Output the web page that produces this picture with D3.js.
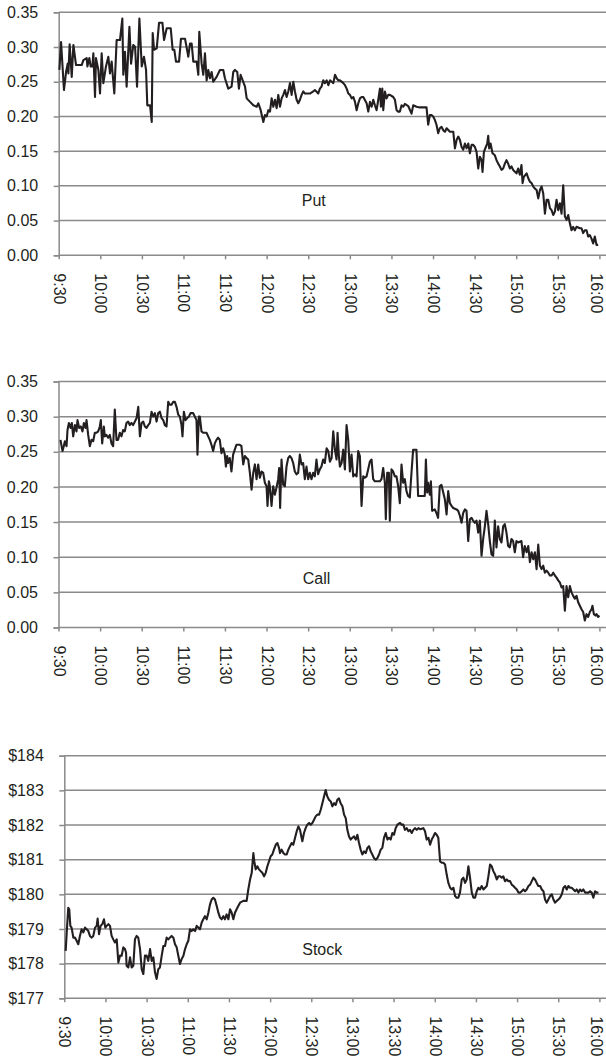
<!DOCTYPE html>
<html>
<head>
<meta charset="utf-8">
<script src="https://cdn.jsdelivr.net/npm/d3@7"></script>
<style>
  html, body { margin: 0; padding: 0; background: #fff; }
  svg { display: block; }
  text { font-family: "Liberation Sans", Arial, Helvetica, sans-serif; fill: #231f20; }
</style>
</head>
<body>
<svg id="chart" width="606" height="1057"></svg>
<script>
// ---------- DATA (minutes after 9:30, value) ----------
const timeTickLabels = ["9:30","10:00","10:30","11:00","11:30","12:00","12:30","13:00","13:30","14:00","14:30","15:00","15:30","16:00"];
const optionTicks = [0, 0.05, 0.10, 0.15, 0.20, 0.25, 0.30, 0.35];
const stockTicks = [177, 178, 179, 180, 181, 182, 183, 184];
const panelTitles = ["Put", "Call", "Stock"];

const putMinutes = [0.5,1.7,3.8,5.3,6.5,7.0,7.9,9.4,10.6,12.5,14.2,16.6,17.8,20.2,20.7,22.1,23.1,24.3,25.0,26.2,26.9,28.6,29.8,31.0,32.2,34.1,35.8,37.0,38.2,40.1,41.8,44.2,45.9,46.6,47.8,49.0,51.0,52.2,53.8,55.1,56.5,58.2,59.9,61.5,63.0,63.9,65.9,67.1,67.8,68.8,70.7,72.4,74.8,76.0,77.9,80.8,82.2,83.4,84.6,86.8,88.2,91.1,93.5,94.7,95.9,97.1,99.5,100.7,101.4,
103.1,104.3,105.5,106.7,107.9,109.1,110.3,111.5,113.9,116.3,118.7,119.9,122.3,124.7,125.9,127.1,128.8,130.0,131.2,132.7,134.4,135.6,138.0,140.4,142.8,144.0,145.7,147.6,148.8,150.0,151.2,152.4,153.6,154.8,156.0,157.2,158.4,159.6,160.8,162.0,163.2,164.4,165.6,166.8,168.0,169.2,170.4,171.6,172.8,174.0,175.2,176.4,177.6,181.2,183.6,184.8,187.2,188.4,189.6,190.8,192.0,193.3,194.5,195.7,196.9,198.1,199.3,200.5,201.7,202.9,205.3,206.5,207.7,208.9,210.1,211.3,212.5,213.7,214.9,216.1,217.3,218.5,219.7,222.1,223.3,224.5,225.7,226.9,228.1,229.3,230.5,231.7,232.4,233.4,234.1,235.3,236.5,237.7,238.9,241.3,242.5,243.7,244.9,246.1,
247.3,248.5,249.7,252.1,254.5,255.7,258.1,260.5,265.3,266.5,267.7,268.9,270.1,271.3,272.5,273.7,274.9,276.1,277.4,278.6,279.8,282.2,284.6,285.8,287.0,288.2,289.4,290.6,291.8,293.0,294.2,295.4,296.6,297.8,299.0,300.2,301.4,302.6,303.8,305.0,305.7,306.7,308.1,309.1,309.8,310.5,311.5,312.9,314.6,315.8,317.0,318.2,319.4,320.6,321.8,323.0,324.2,325.4,326.6,327.8,330.2,331.4,332.6,333.8,334.6,335.5,337.5,338.7,339.9,341.1,342.3,343.5,344.7,345.9,347.1,348.3,349.5,350.7,351.9,353.1,354.3,355.5,356.7,357.9,359.1,360.3,361.5,362.7,363.9,365.1,366.3,367.5,368.7,369.9,371.1,372.3,373.5,375.9,377.1,378.3,379.5,380.7,381.9,383.1,384.3,385.5,386.7,387.9,389.1];
const putPrices = [0.267,0.307,0.238,0.264,0.276,0.262,0.304,0.257,0.303,0.274,0.274,0.274,0.281,0.284,0.272,0.284,0.272,0.272,0.291,0.228,0.284,0.267,0.233,0.291,0.248,0.272,0.286,0.262,0.279,0.233,0.310,0.310,0.341,0.260,0.293,0.243,0.329,0.276,0.303,0.300,0.243,0.341,0.272,0.286,0.267,0.216,0.216,0.192,0.320,0.296,0.298,0.335,0.335,0.310,0.327,0.327,0.296,0.296,0.279,0.279,0.312,0.312,0.286,0.305,0.305,0.279,0.279,0.260,0.322,
0.276,0.260,0.291,0.252,0.267,0.255,0.264,0.250,0.257,0.267,0.267,0.255,0.240,0.243,0.264,0.267,0.264,0.240,0.260,0.252,0.243,0.226,0.221,0.216,0.214,0.219,0.209,0.192,0.202,0.200,0.209,0.207,0.226,0.214,0.224,0.212,0.231,0.214,0.226,0.231,0.238,0.228,0.236,0.248,0.231,0.250,0.236,0.224,0.219,0.224,0.231,0.236,0.233,0.233,0.236,0.238,0.233,0.240,0.243,0.252,0.248,0.252,0.245,0.252,0.250,0.248,0.260,0.255,0.252,0.252,0.248,0.245,0.240,0.233,0.231,0.226,0.228,0.221,0.209,0.219,0.226,0.228,0.228,0.219,0.207,0.221,0.214,0.224,0.216,0.209,0.224,0.240,0.214,0.240,0.209,0.236,0.226,0.231,0.231,0.228,0.224,0.209,0.207,0.207,
0.216,0.214,0.218,0.215,0.204,0.216,0.214,0.213,0.213,0.188,0.202,0.202,0.200,0.195,0.188,0.176,0.183,0.185,0.180,0.178,0.183,0.178,0.178,0.154,0.166,0.171,0.166,0.156,0.152,0.161,0.154,0.161,0.147,0.159,0.159,0.156,0.149,0.125,0.142,0.137,0.120,0.149,0.156,0.161,0.172,0.154,0.161,0.147,0.144,0.137,0.132,0.128,0.123,0.125,0.132,0.137,0.132,0.125,0.128,0.123,0.118,0.125,0.116,0.130,0.104,0.113,0.118,0.111,0.106,0.104,0.099,0.096,0.094,0.082,0.094,0.099,0.089,0.060,0.080,0.080,0.068,0.065,0.058,0.063,0.080,0.065,0.075,0.060,0.101,0.056,0.051,0.058,0.046,0.036,0.041,0.036,0.041,0.039,0.039,0.032,0.036,0.036,0.027,0.029,0.024,0.017,0.027,0.015,0.015];

const callMinutes = [1.4,2.9,3.8,4.6,5.8,6.5,7.5,8.7,9.6,10.6,11.8,13.0,13.7,14.9,16.1,17.3,18.3,19.5,20.2,21.4,22.6,23.8,25.0,26.2,27.4,28.6,29.8,30.5,31.5,32.7,33.4,34.6,35.8,37.0,38.2,39.4,40.6,41.8,43.0,44.2,45.4,46.6,47.8,49.0,50.2,51.4,52.6,53.8,55.1,56.3,57.5,58.7,59.9,61.1,62.3,63.5,64.7,65.9,67.1,68.3,69.5,70.7,71.9,73.1,74.3,75.5,76.7,77.9,79.1,80.3,81.5,82.7,83.9,85.1,86.3,87.5,88.7,89.4,90.4,91.6,92.8,94.0,95.2,97.1,98.3,99.5,100.2,101.2,
101.9,103.1,104.3,106.7,109.1,110.3,111.5,112.7,113.9,115.1,116.3,117.5,118.7,119.9,120.7,121.6,122.3,123.5,124.7,125.9,127.1,128.3,130.7,131.9,133.2,134.4,135.6,136.8,138.0,139.2,140.4,141.6,142.8,144.0,145.2,146.4,147.6,148.8,150.0,150.7,151.7,152.4,153.6,154.8,156.0,157.2,158.4,159.1,159.8,160.8,162.0,163.2,164.4,165.6,166.8,168.0,169.2,170.4,171.6,172.8,174.0,175.2,176.4,177.6,178.8,180.0,181.2,182.4,183.6,184.8,186.0,187.2,188.4,189.6,190.8,192.0,193.3,194.5,195.7,196.9,198.1,199.3,200.5,201.2,202.1,202.9,204.1,205.3,206.5,207.7,208.9,210.1,211.3,212.5,213.7,214.9,216.1,217.3,218.5,219.7,220.9,222.1,223.3,224.5,225.7,226.9,228.1,231.7,232.9,234.1,235.3,236.0,237.0,238.2,238.9,240.1,241.3,242.5,243.7,244.9,246.1,
247.3,248.5,249.7,250.9,252.1,253.3,254.5,255.7,258.1,259.3,261.7,264.1,264.9,265.8,266.5,267.7,268.5,269.4,271.3,272.5,273.7,274.9,276.1,277.4,278.6,279.8,281.0,282.2,283.4,284.6,287.0,288.2,289.4,290.6,291.8,293.0,294.2,295.4,296.6,297.8,299.0,300.2,301.4,302.6,303.8,305.0,306.2,307.4,308.6,309.8,311.0,312.2,313.4,314.6,315.8,317.0,318.2,319.4,320.6,321.8,323.0,324.2,325.4,326.6,327.8,329.0,330.2,331.4,333.8,335.0,336.2,337.5,338.7,339.9,341.1,342.3,343.5,344.7,345.9,347.1,348.3,349.5,350.7,351.9,353.1,354.3,355.5,356.7,357.9,359.1,360.3,361.5,362.7,363.9,365.1,366.3,367.5,368.7,369.9,371.1,372.3,373.5,374.7,375.9,377.1,378.3,379.5,380.7,381.9,383.1,384.3,385.0,386.0,387.2,387.9,389.1,390.0];
const callPrices = [0.267,0.251,0.258,0.265,0.258,0.281,0.291,0.284,0.291,0.272,0.288,0.279,0.295,0.284,0.286,0.279,0.291,0.284,0.295,0.274,0.258,0.267,0.265,0.277,0.277,0.279,0.286,0.295,0.262,0.286,0.272,0.274,0.270,0.274,0.262,0.258,0.310,0.267,0.267,0.277,0.272,0.281,0.279,0.291,0.293,0.288,0.291,0.288,0.293,0.298,0.314,0.272,0.291,0.293,0.286,0.284,0.288,0.291,0.307,0.300,0.305,0.293,0.305,0.307,0.298,0.295,0.288,0.286,0.321,0.317,0.317,0.321,0.321,0.314,0.303,0.300,0.288,0.272,0.307,0.295,0.298,0.300,0.305,0.305,0.300,0.295,0.246,0.300,
0.300,0.279,0.277,0.277,0.267,0.260,0.251,0.262,0.267,0.270,0.267,0.248,0.255,0.246,0.229,0.244,0.234,0.241,0.222,0.246,0.253,0.260,0.260,0.258,0.232,0.244,0.241,0.239,0.220,0.196,0.220,0.232,0.211,0.232,0.213,0.222,0.220,0.206,0.201,0.173,0.208,0.201,0.173,0.201,0.189,0.199,0.211,0.227,0.170,0.239,0.203,0.201,0.229,0.241,0.244,0.241,0.234,0.222,0.218,0.220,0.246,0.232,0.234,0.211,0.229,0.211,0.220,0.211,0.220,0.215,0.239,0.218,0.225,0.229,0.239,0.234,0.255,0.251,0.236,0.241,0.279,0.253,0.239,0.277,0.246,0.229,0.234,0.253,0.225,0.288,0.267,0.222,0.246,0.215,0.218,0.215,0.251,0.244,0.173,0.215,0.213,0.215,0.225,0.236,0.239,0.211,0.208,0.208,0.211,0.227,0.206,0.154,0.220,0.220,0.152,0.225,0.222,0.215,0.215,0.201,0.177,
0.232,0.206,0.211,0.194,0.187,0.185,0.220,0.253,0.253,0.187,0.187,0.187,0.239,0.192,0.206,0.189,0.208,0.166,0.168,0.163,0.156,0.201,0.203,0.192,0.182,0.161,0.194,0.177,0.173,0.170,0.168,0.166,0.159,0.149,0.163,0.168,0.166,0.123,0.154,0.156,0.152,0.149,0.152,0.135,0.152,0.102,0.126,0.144,0.166,0.147,0.123,0.104,0.102,0.152,0.114,0.144,0.126,0.121,0.144,0.147,0.135,0.116,0.114,0.126,0.123,0.107,0.123,0.121,0.123,0.100,0.116,0.107,0.116,0.093,0.107,0.097,0.107,0.083,0.118,0.088,0.083,0.088,0.078,0.081,0.078,0.074,0.074,0.078,0.074,0.071,0.067,0.064,0.057,0.059,0.024,0.059,0.043,0.059,0.050,0.045,0.041,0.045,0.036,0.031,0.026,0.022,0.010,0.019,0.015,0.022,0.026,0.031,0.019,0.017,0.019,0.015,0.017];

const stockMinutes = [1.0,1.9,2.9,3.6,4.4,5.3,6.6,7.8,9.0,10.2,11.4,12.6,13.9,15.1,16.3,17.5,18.7,19.9,21.1,22.4,23.6,24.3,25.3,26.5,27.7,28.9,29.9,30.9,32.1,33.3,34.5,35.7,36.9,38.2,39.4,40.6,41.8,43.0,44.2,45.0,45.4,46.7,47.9,49.1,50.3,51.5,52.7,53.9,55.2,56.4,57.6,58.8,60.0,61.2,62.5,63.7,64.9,66.1,67.3,68.5,69.7,71.0,72.2,73.4,74.6,75.8,77.0,78.2,79.5,80.7,81.9,83.1,84.3,85.5,86.8,88.0,89.2,90.4,91.6,92.8,94.0,95.3,96.5,98.9,
100.1,101.3,102.5,103.8,105.0,106.2,107.4,108.6,109.8,111.1,112.3,113.5,114.7,115.9,117.1,118.3,119.6,120.8,122.0,123.2,124.4,125.6,126.8,128.1,130.5,132.9,134.1,135.4,136.6,137.8,138.5,139.5,140.7,141.9,143.1,144.3,145.6,146.8,148.0,149.2,150.4,151.6,152.8,154.1,155.3,156.5,157.2,158.4,159.7,160.9,162.1,163.3,164.5,165.7,166.9,168.2,169.4,170.6,171.8,172.5,173.5,174.7,175.9,177.1,178.4,179.6,180.8,182.0,183.2,184.4,185.7,186.9,188.1,189.3,190.5,191.7,192.9,194.2,195.4,196.6,197.8,199.0,200.2,201.4,202.7,203.9,205.1,206.3,207.5,208.7,209.9,211.2,212.4,213.6,214.8,216.0,217.2,218.5,219.7,220.9,222.1,223.3,224.5,225.7,227.0,228.2,229.4,230.6,231.8,233.0,234.3,235.5,236.7,237.9,239.1,240.3,241.5,242.8,244.7,
245.9,247.1,248.3,249.6,250.8,252.0,253.2,254.4,255.6,256.9,258.1,259.3,261.7,262.9,264.1,265.4,266.6,267.8,269.0,270.2,271.4,272.6,273.9,275.1,276.3,277.5,278.7,279.9,281.2,282.4,283.6,284.8,286.0,287.2,288.4,289.7,290.9,292.1,293.3,294.5,295.7,297.0,298.2,299.4,300.6,301.8,303.0,304.2,305.5,306.7,307.9,309.1,310.3,311.5,312.7,314.0,315.2,316.4,317.6,318.8,320.0,321.2,322.5,323.7,324.9,326.1,327.3,328.5,329.8,331.0,332.2,333.4,334.6,335.8,337.0,338.3,339.5,340.7,341.9,343.1,344.3,345.5,346.8,348.0,349.2,350.4,351.6,352.8,354.1,355.3,356.5,357.7,358.9,360.1,361.3,362.6,363.8,365.0,366.2,367.4,368.6,369.8,371.1,372.3,373.5,374.7,375.9,377.1,378.3,379.6,380.8,382.0,383.2,384.4,385.6,386.8,388.0,389.3];
const stockPrices = [178.37,178.99,179.61,179.57,179.09,179.04,178.75,178.75,178.66,178.56,178.80,178.99,178.90,179.04,178.99,178.94,178.80,178.75,178.80,179.04,179.09,179.30,178.85,179.09,179.14,179.28,179.04,179.09,179.14,179.09,178.80,178.70,178.61,178.70,178.03,178.23,178.23,178.47,178.42,178.32,177.94,177.89,178.18,177.89,177.94,178.70,178.80,178.75,178.42,177.84,177.70,178.23,178.23,178.08,178.42,178.08,178.18,177.75,177.56,177.84,177.89,178.23,178.51,178.51,178.75,178.70,178.75,178.80,178.75,178.56,178.47,178.23,177.99,178.13,178.23,178.42,178.56,178.66,178.99,178.94,178.99,178.94,179.09,178.99,
179.18,179.28,179.37,179.28,179.47,179.71,179.85,179.90,179.85,179.66,179.47,179.33,179.28,179.37,179.28,179.42,179.28,179.57,179.47,179.28,179.47,179.57,179.66,179.76,179.81,179.81,180.14,180.43,180.62,181.19,180.95,180.72,180.81,180.72,180.67,180.62,180.52,180.62,180.81,180.95,181.10,181.15,181.29,181.43,181.48,181.34,181.19,181.29,181.19,181.15,181.15,181.29,181.39,181.48,181.43,181.63,181.82,181.96,181.86,181.72,181.53,181.77,181.91,182.01,182.06,182.01,182.06,182.15,182.25,182.30,182.30,182.44,182.63,182.82,183.01,182.82,182.73,182.68,182.54,182.63,182.58,182.73,182.77,182.63,182.54,182.30,182.20,181.86,181.67,181.58,181.63,181.67,181.58,181.72,181.48,181.29,181.15,181.24,181.19,181.34,181.39,181.24,181.15,181.05,181.00,181.05,181.15,181.29,181.34,181.63,181.77,181.58,181.63,181.58,181.77,181.72,181.91,182.01,182.06,
182.01,182.01,181.86,181.91,181.82,181.86,181.77,181.86,181.91,181.86,181.91,181.88,181.91,181.82,181.58,181.63,181.43,181.58,181.67,181.77,181.72,181.63,180.95,180.91,180.91,180.86,180.57,180.33,180.19,180.14,180.19,179.95,179.90,179.90,180.05,180.43,180.48,180.33,180.43,180.81,180.48,180.05,179.90,179.90,180.09,180.19,180.14,180.24,180.14,180.19,180.24,180.52,180.86,180.81,180.67,180.57,180.43,180.52,180.52,180.48,180.52,180.38,180.43,180.38,180.38,180.28,180.24,180.19,180.14,180.05,180.05,180.09,180.14,180.09,180.14,180.24,180.28,180.38,180.48,180.43,180.33,180.24,180.24,180.14,180.09,179.85,179.76,179.85,179.95,180.00,179.85,179.76,179.81,179.85,179.90,180.00,180.19,180.24,180.14,180.24,180.19,180.19,180.14,180.09,180.14,180.05,180.14,180.09,180.14,180.05,180.05,180.05,180.09,180.05,179.90,180.09,180.05,180.05];

// ---------- LAYOUT ----------
const svg = d3.select("#chart");
const W = 606;
const FONT = 16;
const tickMinutes = timeTickLabels.map((d, i) => i * 30);
const gridColor = "#8a8a8a";

const panels = [
  { title: panelTitles[0], minutes: putMinutes, values: putPrices, left: 58.7, top: 12.3, bottom: 255.3,
    domain: [0, 0.35], ticks: optionTicks, fmt: d3.format(".2f"), titleAt: [184, 0.071] },
  { title: panelTitles[1], minutes: callMinutes, values: callPrices, left: 58.5, top: 381.5, bottom: 627.5,
    domain: [0, 0.35], ticks: optionTicks, fmt: d3.format(".2f"), titleAt: [186, 0.062] },
  { title: panelTitles[2], minutes: stockMinutes, values: stockPrices, left: 64.3, top: 755.7, bottom: 998.3,
    domain: [177, 184], ticks: stockTicks, fmt: d => "$" + d, titleAt: [188, 178.25] }
];

panels.forEach(p => {
  const x = d3.scaleLinear().domain([0, 390]).range([p.left, 599.4]);
  const y = d3.scaleLinear().domain(p.domain).range([p.bottom, p.top]);
  const g = svg.append("g");

  // horizontal gridlines
  g.selectAll("line.grid").data(p.ticks).join("line")
    .attr("x1", p.left).attr("x2", W)
    .attr("y1", d => y(d)).attr("y2", d => y(d))
    .attr("stroke", gridColor).attr("stroke-width", 1.5);

  // y axis
  const yAxis = d3.axisLeft(y).tickValues(p.ticks).tickFormat(p.fmt).tickSize(5).tickPadding(15.5);
  const ya = g.append("g").attr("transform", `translate(${p.left},0)`).call(yAxis);
  ya.select(".domain").attr("stroke", gridColor).attr("stroke-width", 1.5);
  ya.selectAll(".tick line").attr("stroke", gridColor).attr("stroke-width", 1.5);
  ya.selectAll(".tick text").attr("font-size", FONT).attr("fill", "#231f20")
    .attr("font-family", "Liberation Sans, Arial, sans-serif");

  // x axis
  const xAxis = d3.axisBottom(x).tickValues(tickMinutes).tickFormat((d, i) => timeTickLabels[i]).tickSize(4).tickPadding(0);
  const xa = g.append("g").attr("transform", `translate(0,${p.bottom})`).call(xAxis);
  xa.select(".domain").remove();
  xa.selectAll(".tick line").attr("stroke", gridColor).attr("stroke-width", 1.5);
  const last = timeTickLabels.length - 1;
  xa.selectAll(".tick text")
    .attr("font-size", FONT).attr("fill", "#231f20")
    .attr("font-family", "Liberation Sans, Arial, sans-serif")
    .attr("text-anchor", "start")
    .attr("dy", null)
    .attr("dominant-baseline", "central")
    .attr("transform", (d, i) => `translate(${i === last ? -3 : 0},18) rotate(90)`)
    .attr("y", 0).attr("x", 0);

  // data line
  const pts = p.minutes.map((m, i) => [m, p.values[i]]);
  g.append("path")
    .datum(pts)
    .attr("fill", "none")
    .attr("stroke", "#231f20")
    .attr("stroke-width", 2.1)
    .attr("stroke-linejoin", "round")
    .attr("d", d3.line().x(d => x(d[0])).y(d => y(d[1])));

  // panel title
  g.append("text")
    .attr("x", x(p.titleAt[0])).attr("y", y(p.titleAt[1]))
    .attr("text-anchor", "middle")
    .attr("font-size", FONT)
    .text(p.title);
});
</script>
</body>
</html>
